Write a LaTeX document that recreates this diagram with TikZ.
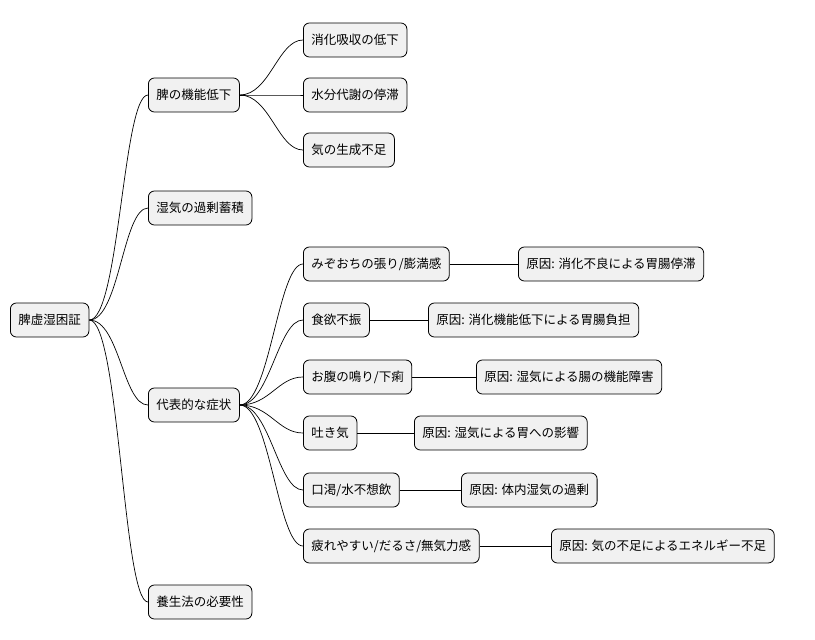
\documentclass[tikz,border=0pt]{standalone}
\usepackage{fontspec}
\setmainfont{Noto Sans CJK JP}
\begin{document}
\begin{tikzpicture}[x=1pt,y=-1pt,
  n/.style={draw=black,fill={rgb,255:red,241;green,241;blue,241},rounded corners=6pt,line width=0.8pt,anchor=west,minimum height=34pt,inner xsep=8pt,font=\fontsize{12.5}{14}\selectfont},
  e/.style={line width=0.7pt}]
\useasboundingbox (0,0) rectangle (815,640);
\node[n] (r) at (10,320) {脾虚湿困証};
\node[n] (a) at (148,95) {脾の機能低下};
\node[n] (a1) at (303,40) {消化吸収の低下};
\node[n] (a2) at (303,95) {水分代謝の停滞};
\node[n] (a3) at (303,150) {気の生成不足};
\node[n] (b) at (148,208) {湿気の過剰蓄積};
\node[n] (c) at (148,405) {代表的な症状};
\node[n] (c1) at (303,264) {みぞおちの張り/膨満感};
\node[n] (c1r) at (518,264) {原因: 消化不良による胃腸停滞};
\node[n] (c2) at (303,320) {食欲不振};
\node[n] (c2r) at (428,320) {原因: 消化機能低下による胃腸負担};
\node[n] (c3) at (303,377) {お腹の鳴り/下痢};
\node[n] (c3r) at (476,377) {原因: 湿気による腸の機能障害};
\node[n] (c4) at (303,433) {吐き気};
\node[n] (c4r) at (414,433) {原因: 湿気による胃への影響};
\node[n] (c5) at (303,490) {口渇/水不想飲};
\node[n] (c5r) at (461,490) {原因: 体内湿気の過剰};
\node[n] (c6) at (303,546) {疲れやすい/だるさ/無気力感};
\node[n] (c6r) at (551,546) {原因: 気の不足によるエネルギー不足};
\node[n] (d) at (148,602) {養生法の必要性};
\foreach \p/\c in {r/a,r/b,r/c,r/d,a/a1,a/a2,a/a3,c/c1,c/c2,c/c3,c/c4,c/c5,c/c6}
  \draw[e] (\p.east) .. controls ([xshift=30]\p.east) and ([xshift=-25]\c.west) .. (\c.west);
\foreach \p in {c1,c2,c3,c4,c5,c6}
  \draw[e] (\p.east) -- (\p r.west);
\end{tikzpicture}
\end{document}
